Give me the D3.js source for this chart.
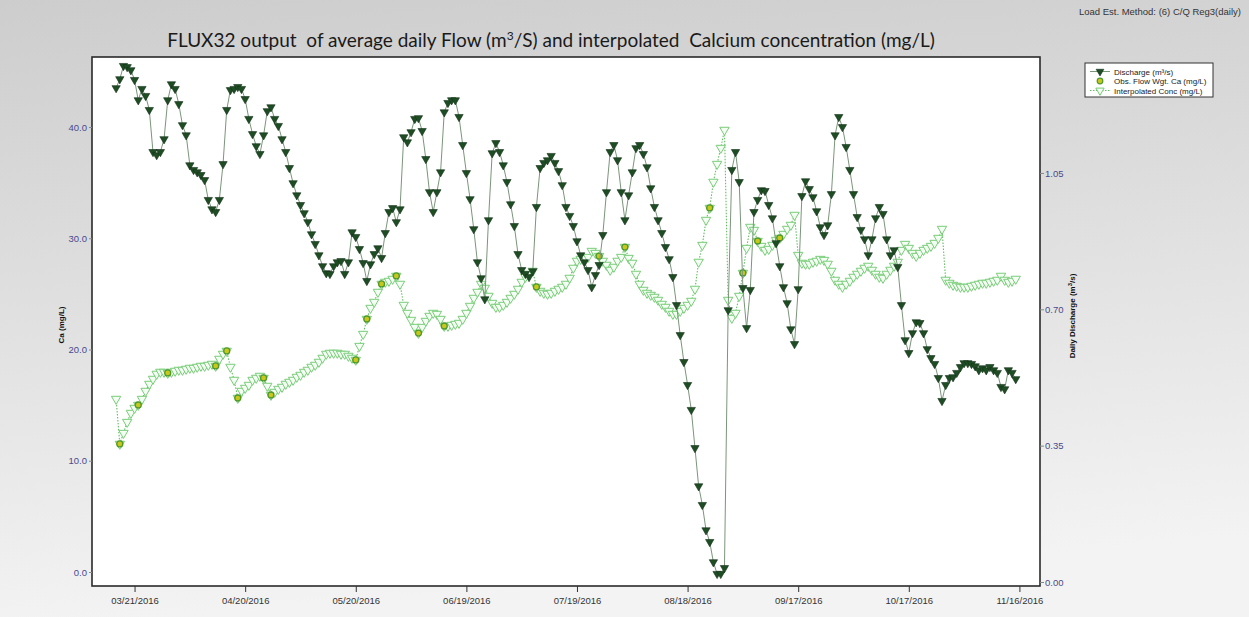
<!DOCTYPE html>
<html>
<head>
<meta charset="utf-8">
<script src="https://cdn.jsdelivr.net/npm/d3@7"></script>
<style>
  body { margin: 0; background: #e4e4e4; }
  svg { display: block; }
</style>
</head>
<body>
<div id="chart"></div>
<script>
// daily series start on this day (one value per day)
const startDay = "2016-03-16";

// daily discharge, m3/s
const discharge = [
  1.268,1.291,1.325,1.322,1.314,1.289,1.237,1.266,1.248,1.212,
  1.104,1.096,1.104,1.137,1.237,1.278,1.266,1.227,1.173,1.147,
  1.070,1.058,1.052,1.045,1.032,0.981,0.957,0.950,0.981,1.073,
  1.212,1.263,1.266,1.271,1.266,1.240,1.189,1.150,1.119,1.099,
  1.147,1.209,1.219,1.189,1.171,1.137,1.104,1.063,1.024,0.993,
  0.968,0.947,0.924,0.893,0.868,0.839,0.811,0.793,0.791,0.811,
  0.821,0.824,0.791,0.821,0.898,0.886,0.855,0.819,0.773,0.816,
  0.842,0.857,0.832,0.896,0.950,0.960,0.924,0.957,1.142,1.129,
  1.155,1.189,1.191,1.158,1.086,1.001,0.950,1.001,1.052,1.206,
  1.230,1.237,1.237,1.194,1.122,1.050,0.983,0.906,0.821,0.780,
  0.726,0.929,1.101,1.127,1.104,1.070,1.027,0.970,0.914,0.842,
  0.801,0.791,0.783,0.798,0.963,1.063,1.076,1.083,1.094,1.076,
  1.055,1.019,0.963,0.940,0.914,0.875,0.839,0.821,0.801,0.757,
  0.788,0.814,0.891,1.001,1.104,1.122,1.083,1.001,0.929,0.993,
  1.052,1.114,1.122,1.099,1.065,1.011,0.963,0.929,0.896,0.860,
  0.829,0.783,0.711,0.634,0.565,0.506,0.442,0.344,0.246,0.198,
  0.133,0.103,0.051,0.021,0.021,0.036,0.698,1.058,1.104,1.027,
  0.755,0.652,0.750,0.950,0.981,1.006,1.004,0.968,0.934,0.870,
  0.811,0.757,0.716,0.649,0.611,0.752,0.991,1.029,1.009,0.988,
  0.952,0.911,0.891,0.916,0.996,1.147,1.194,1.168,1.117,1.058,
  0.996,0.937,0.904,0.880,0.839,0.880,0.934,0.963,0.945,0.880,
  0.839,0.852,0.809,0.711,0.621,0.588,0.639,0.667,0.665,0.639,
  0.598,0.575,0.560,0.524,0.465,0.506,0.524,0.526,0.537,0.552,
  0.562,0.562,0.560,0.554,0.544,0.549,0.544,0.552,0.544,0.537,
  0.501,0.495,0.544,0.537,0.521
];

// interpolated calcium, mg/L
const calcium = [
  15.55,11.51,12.49,13.48,14.29,14.74,15.01,15.55,16.27,16.90,
  17.35,17.80,17.98,17.98,17.89,17.98,18.07,18.16,18.16,18.25,
  18.34,18.34,18.43,18.52,18.52,18.61,18.70,18.52,19.15,19.60,
  19.87,18.43,17.26,15.64,16.27,16.54,16.81,17.26,17.44,17.62,
  17.44,16.72,15.91,16.18,16.45,16.63,16.90,17.08,17.26,17.53,
  17.71,17.98,18.16,18.43,18.61,18.88,19.24,19.60,19.69,19.69,
  19.69,19.60,19.60,19.42,19.24,19.06,20.31,21.39,22.74,23.73,
  24.27,25.17,25.89,26.07,26.16,26.34,26.61,25.89,24.00,23.28,
  22.65,22.02,21.48,22.02,22.56,23.01,23.28,23.19,22.74,22.11,
  22.11,22.20,22.29,22.38,22.74,23.28,23.91,24.63,25.17,25.89,
  25.53,24.81,24.18,23.82,23.82,24.00,24.27,24.63,24.99,25.44,
  26.07,26.52,26.79,27.06,25.62,25.26,25.08,24.99,25.08,25.26,
  25.44,25.62,25.89,26.43,27.33,27.96,28.13,28.22,28.31,28.85,
  28.67,28.40,27.96,27.60,27.15,27.42,27.96,28.31,29.21,28.22,
  27.78,26.79,25.89,25.35,25.08,24.90,24.72,24.45,24.09,23.82,
  23.46,23.19,23.19,23.46,23.73,24.00,24.36,25.44,27.87,29.39,
  31.64,32.72,35.06,36.67,38.11,39.73,24.45,22.83,23.28,24.81,
  26.88,29.12,31.01,30.74,29.75,29.30,28.94,29.03,29.39,29.84,
  30.02,30.38,30.83,31.19,32.09,28.49,27.78,27.69,27.69,27.87,
  27.96,28.13,28.04,27.69,27.06,26.25,25.89,25.62,25.89,26.16,
  26.52,26.79,27.06,27.33,27.51,27.15,26.79,26.52,26.43,26.79,
  27.15,27.51,27.87,28.94,29.48,29.12,28.67,28.40,28.67,28.94,
  29.12,29.30,29.57,30.02,30.83,26.25,25.98,25.80,25.71,25.62,
  25.62,25.62,25.71,25.80,25.89,25.98,25.98,26.07,26.16,26.25,
  26.61,26.25,26.07,26.16,26.34
];

// observed flow weighted Ca samples
const obsDates = ["2016-03-17","2016-03-22","2016-03-30","2016-04-12","2016-04-15","2016-04-18",
  "2016-04-25","2016-04-27","2016-05-20","2016-05-23","2016-05-27","2016-05-31","2016-06-06",
  "2016-06-13","2016-07-08","2016-07-25","2016-08-01","2016-08-24","2016-09-02","2016-09-06","2016-09-12"];
const obsCa = [11.51,15.01,17.89,18.52,19.87,15.64,17.44,15.91,19.06,22.74,25.89,26.61,21.48,
  22.11,25.62,28.40,29.21,32.72,26.88,29.75,30.02];

const xTickDates = ["2016-03-21","2016-04-20","2016-05-20","2016-06-19","2016-07-19",
  "2016-08-18","2016-09-17","2016-10-17","2016-11-16"];
const caTicks = [0, 10, 20, 30, 40];
const qTicks = [0, 0.35, 0.70, 1.05];

const width = 1249, height = 617;
const plot = { left: 92, right: 1040, top: 57, bottom: 586 };
const parse = d3.utcParse("%Y-%m-%d");
const day0 = parse(startDay);
const days = discharge.map((_, i) => d3.utcDay.offset(day0, i));

const svg = d3.select("#chart").append("svg")
  .attr("width", width)
  .attr("height", height);

// grey backdrop
const grad = svg.append("defs").append("linearGradient")
  .attr("id", "bg").attr("x1", 0).attr("y1", 0).attr("x2", 0.15).attr("y2", 1);
grad.append("stop").attr("offset", "0%").attr("stop-color", "#cdcdcd");
grad.append("stop").attr("offset", "100%").attr("stop-color", "#f3f3f3");
svg.append("rect").attr("width", width).attr("height", height).attr("fill", "url(#bg)");

const x = d3.scaleUtc()
  .domain([new Date(Date.UTC(2016, 2, 9, 11)), new Date(Date.UTC(2016, 10, 21, 14))])
  .range([plot.left, plot.right]);
const yCa = d3.scaleLinear().domain([-1.258, 46.29]).range([plot.bottom, plot.top]);
const yQ = d3.scaleLinear().domain([-0.0103, 1.3477]).range([plot.bottom, plot.top]);

svg.append("rect")
  .attr("x", plot.left).attr("y", plot.top)
  .attr("width", plot.right - plot.left).attr("height", plot.bottom - plot.top)
  .attr("fill", "#fff").attr("stroke", "#2a2a2a").attr("stroke-width", 1.6);

// title and method note
svg.append("text")
  .attr("x", 551).attr("y", 47)
  .attr("text-anchor", "middle")
  .style("font-family", "Lato, 'Open Sans', sans-serif")
  .style("font-size", "19px")
  .style("fill", "#1a1a1a")
  .html("FLUX32 output&#160; of average daily Flow (m<tspan dy='-7' font-size='12px'>3</tspan><tspan dy='7'>/S) and interpolated&#160; Calcium concentration (mg/L)</tspan>");

svg.append("text")
  .attr("x", 1241).attr("y", 15)
  .attr("text-anchor", "end")
  .style("font-family", "'Liberation Sans', Arial, sans-serif")
  .style("font-size", "9.5px")
  .style("fill", "#333")
  .text("Load Est. Method: (6) C/Q Reg3(daily)");

// axes
const fmt = d3.utcFormat("%m/%d/%Y");
const xAxis = svg.append("g")
  .attr("transform", `translate(0,${plot.bottom})`)
  .call(d3.axisBottom(x).tickValues(xTickDates.map(parse)).tickFormat(fmt).tickSize(6).tickPadding(5));
xAxis.select(".domain").remove();
xAxis.selectAll("line").attr("stroke", "#333");
xAxis.selectAll("text")
  .style("font-family", "'Liberation Sans', Arial, sans-serif")
  .style("font-size", "9.5px").style("fill", "#333");

const leftAxis = svg.append("g")
  .attr("transform", `translate(${plot.left},0)`)
  .call(d3.axisLeft(yCa).tickValues(caTicks).tickFormat(d3.format(".1f")).tickSize(3).tickPadding(2));
leftAxis.select(".domain").remove();
leftAxis.selectAll("line").attr("stroke", "#888");
leftAxis.selectAll("text")
  .style("font-family", "'Liberation Sans', Arial, sans-serif")
  .style("font-size", "9.5px").style("fill", "#4a4a8e");

const rightAxis = svg.append("g")
  .attr("transform", `translate(${plot.right},0)`)
  .call(d3.axisRight(yQ).tickValues(qTicks).tickFormat(d3.format(".2f")).tickSize(4).tickPadding(1));
rightAxis.select(".domain").remove();
rightAxis.selectAll("line").attr("stroke", "#888");
rightAxis.selectAll("text")
  .style("font-family", "'Liberation Sans', Arial, sans-serif")
  .style("font-size", "9.5px").style("fill", "#4a4a8e");

svg.append("text")
  .attr("transform", "translate(64,325) rotate(-90)")
  .attr("text-anchor", "middle")
  .style("font-family", "'Liberation Sans', Arial, sans-serif")
  .style("font-size", "8px").style("font-weight", "bold").style("fill", "#111")
  .text("Ca (mg/L)");

svg.append("text")
  .attr("transform", "translate(1075,316) rotate(-90)")
  .attr("text-anchor", "middle")
  .style("font-family", "'Liberation Sans', Arial, sans-serif")
  .style("font-size", "8px").style("font-weight", "bold").style("fill", "#111")
  .html("Daily Discharge (m<tspan dy='-3' font-size='6px'>3</tspan><tspan dy='3'>/s)</tspan>");

// series
const g = svg.append("g");
const triDown = d3.symbol().type(d3.symbolTriangle);

const caPts = days.map((d, i) => [d, calcium[i]]);
const qPts = days.map((d, i) => [d, discharge[i]]);

g.append("path")
  .datum(caPts)
  .attr("fill", "none").attr("stroke", "#62bd62").attr("stroke-width", 1.1)
  .attr("stroke-dasharray", "1.5,1.5")
  .attr("d", d3.line().x(d => x(d[0])).y(d => yCa(d[1])));

g.selectAll(".ca").data(caPts).enter().append("path")
  .attr("class", "ca")
  .attr("d", triDown.size(38)())
  .attr("transform", d => `translate(${x(d[0])},${yCa(d[1])}) rotate(180)`)
  .attr("fill", "#f2fff2").attr("stroke", "#79cc79").attr("stroke-width", 1);

g.selectAll(".obs").data(obsDates).enter().append("circle")
  .attr("class", "obs")
  .attr("cx", d => x(parse(d)))
  .attr("cy", (d, i) => yCa(obsCa[i]))
  .attr("r", 3)
  .attr("fill", "#c9c71c").attr("stroke", "#4e9a2c").attr("stroke-width", 1.3);

g.append("path")
  .datum(qPts)
  .attr("fill", "none").attr("stroke", "#7a967a").attr("stroke-width", 1)
  .attr("d", d3.line().x(d => x(d[0])).y(d => yQ(d[1])));

g.selectAll(".q").data(qPts).enter().append("path")
  .attr("class", "q")
  .attr("d", triDown.size(30)())
  .attr("transform", d => `translate(${x(d[0])},${yQ(d[1])}) rotate(180)`)
  .attr("fill", "#1f4d23").attr("stroke", "#12301a").attr("stroke-width", 0.6);

// legend
const lg = svg.append("g").attr("transform", "translate(1085,63)");
lg.append("rect").attr("width", 128).attr("height", 34)
  .attr("fill", "#fff").attr("stroke", "#333").attr("stroke-width", 1);
const rows = [
  { label: "Discharge (m³/s)", kind: "q" },
  { label: "Obs. Flow Wgt. Ca (mg/L)", kind: "obs" },
  { label: "Interpolated Conc (mg/L)", kind: "ca" }
];
rows.forEach((r, i) => {
  const yy = 8.5 + i * 9.5;
  if (r.kind === "q") {
    lg.append("line").attr("x1", 5).attr("x2", 25).attr("y1", yy).attr("y2", yy)
      .attr("stroke", "#7a967a").attr("stroke-width", 1);
    lg.append("path").attr("d", triDown.size(26)())
      .attr("transform", `translate(15,${yy}) rotate(180)`)
      .attr("fill", "#1f4d23").attr("stroke", "#12301a").attr("stroke-width", 0.6);
  } else if (r.kind === "obs") {
    lg.append("circle").attr("cx", 15).attr("cy", yy).attr("r", 2.8)
      .attr("fill", "#c9c71c").attr("stroke", "#4e9a2c").attr("stroke-width", 1.2);
  } else {
    lg.append("line").attr("x1", 5).attr("x2", 25).attr("y1", yy).attr("y2", yy)
      .attr("stroke", "#62bd62").attr("stroke-dasharray", "1.5,1.5");
    lg.append("path").attr("d", triDown.size(30)())
      .attr("transform", `translate(15,${yy}) rotate(180)`)
      .attr("fill", "#f2fff2").attr("stroke", "#79cc79").attr("stroke-width", 1);
  }
  lg.append("text").attr("x", 29).attr("y", yy + 3)
    .style("font-family", "'Liberation Sans', Arial, sans-serif")
    .style("font-size", "8px").style("fill", "#222")
    .text(r.label);
});
</script>
</body>
</html>
